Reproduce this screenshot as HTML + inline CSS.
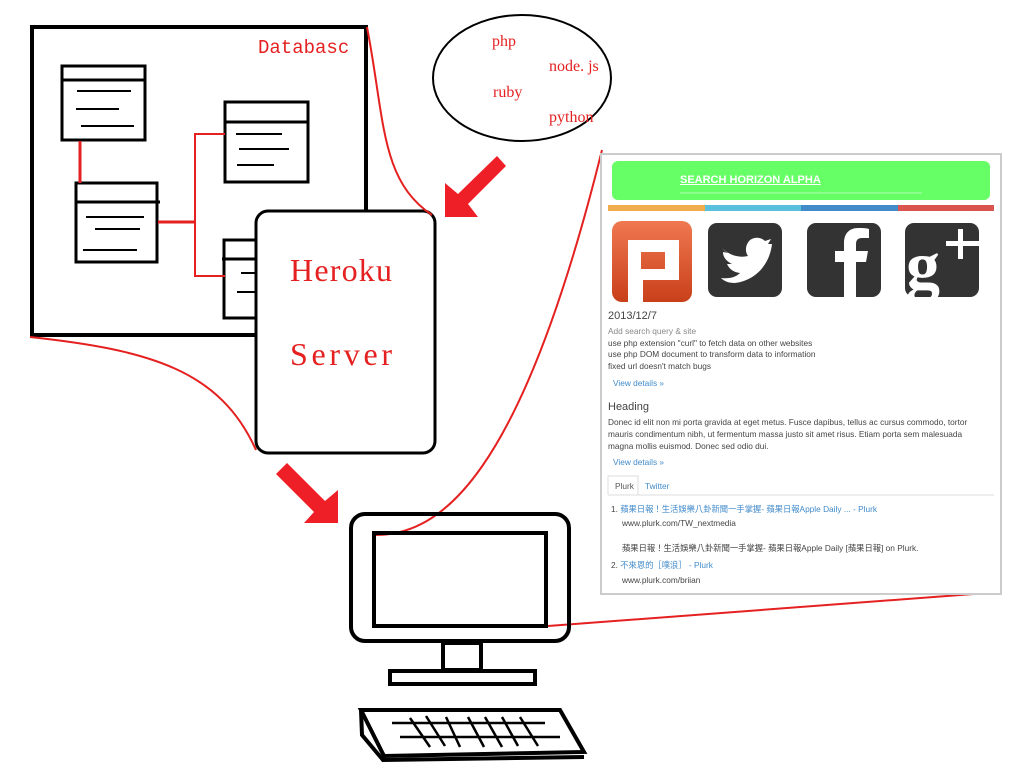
<!DOCTYPE html>
<html><head><meta charset="utf-8"><style>
body{margin:0;background:#fff;width:1024px;height:768px;overflow:hidden;position:relative;font-family:"Liberation Sans","Noto Sans CJK TC",sans-serif}
svg{position:absolute;left:0;top:0}
.p{position:absolute;white-space:nowrap;color:#444}
.sm{font-size:8.3px}
.lk{color:#428bca}
</style></head><body>
<svg width="1024" height="768" viewBox="0 0 1024 768">
<rect x="32" y="27" width="334" height="308" fill="none" stroke="#000" stroke-width="4"/>
<text x="258" y="53" fill="#e52020" font-family="Liberation Mono,monospace" font-size="19">Databasc</text>
<g fill="#fff" stroke="#000" stroke-width="3">
<rect x="62" y="66" width="83" height="74"/><line x1="62" y1="80" x2="145" y2="80"/>
<rect x="225" y="102" width="83" height="80"/><line x1="225" y1="122" x2="308" y2="122"/>
<rect x="76" y="183" width="81" height="79"/><line x1="76" y1="202" x2="160" y2="202"/>
<rect x="224" y="240" width="40" height="78"/><line x1="222" y1="259" x2="264" y2="259"/>
</g>
<g stroke="#000" stroke-width="2">
<line x1="77" y1="91" x2="131" y2="91"/><line x1="76" y1="109" x2="119" y2="109"/><line x1="81" y1="126" x2="134" y2="126"/>
<line x1="236" y1="134" x2="282" y2="134"/><line x1="239" y1="149" x2="289" y2="149"/><line x1="237" y1="165" x2="274" y2="165"/>
<line x1="86" y1="217" x2="144" y2="217"/><line x1="95" y1="229" x2="140" y2="229"/><line x1="83" y1="250" x2="137" y2="250"/>
<line x1="241" y1="273" x2="260" y2="273"/><line x1="237" y1="292" x2="260" y2="292"/>
</g>
<g stroke="#e52020" stroke-width="2" fill="none">
<line x1="80" y1="141" x2="80" y2="183" stroke-width="3"/>
<polyline points="158,222 195,222" stroke-width="3"/>
<polyline points="225,134 195,134 195,276 225,276"/>
</g>
<rect x="256" y="211" width="179" height="242" rx="12" fill="#fff" stroke="#000" stroke-width="3"/>
<text x="290" y="281" fill="#e52020" font-family="Liberation Serif,serif" font-size="32" textLength="102">Heroku</text>
<text x="290" y="365" fill="#e52020" font-family="Liberation Serif,serif" font-size="32" textLength="102">Server</text>
<g stroke="#e52020" stroke-width="2" fill="none">
<path d="M367,27 C385,120 380,180 432,215"/>
<path d="M30,337 C150,350 220,370 256,450"/>
<path d="M375,535 C440,535 520,480 602,150"/>
<path d="M548,626 L1000,592"/>
</g>
<ellipse cx="522" cy="78" rx="89" ry="63" fill="none" stroke="#000" stroke-width="2"/>
<g fill="#e52020" font-family="Liberation Serif,serif" font-size="16">
<text x="492" y="46">php</text><text x="549" y="71">node. js</text>
<text x="493" y="97">ruby</text><text x="549" y="122">python</text>
</g>
<polygon fill="#ee1f27" points="445,217 445,183 458,194 497,156 506,166 468,204 478,217"/>
<polygon fill="#ee1f27" points="338,523 304,523 314,512 276,474 287,463 325,501 338,490"/>
<g fill="none" stroke="#000" stroke-width="4">
<rect x="351" y="514" width="218" height="127" rx="14"/>
<rect x="374" y="533" width="172" height="93"/>
<rect x="443" y="643" width="38" height="27"/>
<rect x="390" y="671" width="145" height="13"/>
<polygon points="361,710 560,710 584,752 384,756"/>
<polyline points="361,710 362,735 383,760 584,757"/>
</g>
<g stroke="#000" stroke-width="2.5">
<line x1="392" y1="723" x2="545" y2="723"/><line x1="400" y1="737" x2="560" y2="737"/>
<line x1="410" y1="718" x2="430" y2="747"/><line x1="426" y1="716" x2="445" y2="746"/>
<line x1="446" y1="717" x2="460" y2="747"/><line x1="468" y1="717" x2="484" y2="747"/>
<line x1="485" y1="717" x2="502" y2="747"/><line x1="502" y1="717" x2="518" y2="746"/>
<line x1="520" y1="717" x2="538" y2="746"/>
</g>
<rect x="601" y="154" width="400" height="440" fill="#fff" stroke="#ccc" stroke-width="2"/>
<rect x="612" y="161" width="378" height="39" rx="6" fill="#66ff66"/>
<line x1="680" y1="193" x2="922" y2="193" stroke="#b0ffb0" stroke-width="1"/>
<rect x="608" y="205" width="97" height="6" fill="#f0ad4e"/>
<rect x="705" y="205" width="96" height="6" fill="#5bc0de"/>
<rect x="801" y="205" width="97" height="6" fill="#428bca"/>
<rect x="898" y="205" width="96" height="6" fill="#d9534f"/>
<defs><linearGradient id="pg" x1="0" y1="0" x2="0" y2="1"><stop offset="0" stop-color="#f07850"/><stop offset="1" stop-color="#c8401a"/></linearGradient></defs>
<rect x="612" y="221" width="80" height="81" rx="10" fill="url(#pg)"/>
<path d="M628,302 V240 H679 V280 H643 V302 Z M641,252 V269 H665 V252 Z" fill="#fff" fill-rule="evenodd"/>
<rect x="708" y="223" width="74" height="74" rx="9" fill="#333"/>
<path d="M722,248 C730,256 740,258 748,256 C745,252 745,245 750,240 C756,236 762,238 765,241 L771,239 L768,244 L772,244 C770,262 758,280 735,283 C728,283 724,281 721,278 C730,279 736,277 740,273 C732,272 729,268 727,264 L732,264 C726,261 723,257 723,252 L728,253 C723,250 721,246 722,248 Z" fill="#fff"/>
<rect x="807" y="223" width="74" height="74" rx="9" fill="#333"/>
<path d="M856,297 V262 H866 L868,251 H856 V244 C856,240 858,238 862,238 H869 V229 C866,228 862,228 858,228 C849,228 844,234 844,243 V251 H835 V262 H844 V297 Z" fill="#fff"/>
<rect x="905" y="223" width="74" height="74" rx="9" fill="#333"/>
<text x="906" y="288" fill="#fff" font-family="Liberation Serif,serif" font-size="68" font-weight="bold">g</text>
<rect x="958" y="229" width="5" height="30" fill="#fff"/><rect x="946" y="241" width="33" height="5" fill="#fff"/>
<line x1="608" y1="495" x2="994" y2="495" stroke="#ddd"/>
<path d="M608,495 V476 H638 V495" fill="none" stroke="#ddd"/>
</svg>
<div class="p" style="left:680px;top:174px;font-size:11px;color:#fff;font-weight:bold;text-decoration:underline">SEARCH HORIZON ALPHA</div>
<div class="p" style="left:608px;top:310px;font-size:11px">2013/12/7</div>
<div class="p sm" style="left:608px;top:326px;color:#888">Add search query &amp; site</div>
<div class="p sm" style="left:608px;top:338px">use php extension "curl" to fetch data on other websites</div>
<div class="p sm" style="left:608px;top:349px">use php DOM document to transform data to information</div>
<div class="p sm" style="left:608px;top:361px">fixed url doesn't match bugs</div>
<div class="p sm lk" style="left:613px;top:378px">View details »</div>
<div class="p" style="left:608px;top:401px;font-size:11px">Heading</div>
<div class="p sm" style="left:608px;top:417px">Donec id elit non mi porta gravida at eget metus. Fusce dapibus, tellus ac cursus commodo, tortor</div>
<div class="p sm" style="left:608px;top:429px">mauris condimentum nibh, ut fermentum massa justo sit amet risus. Etiam porta sem malesuada</div>
<div class="p sm" style="left:608px;top:441px">magna mollis euismod. Donec sed odio dui.</div>
<div class="p sm lk" style="left:613px;top:457px">View details »</div>
<div class="p sm" style="left:615px;top:481px;color:#555">Plurk</div>
<div class="p sm lk" style="left:645px;top:481px">Twitter</div>
<div class="p sm" style="left:611px;top:503px">1. <span class="lk">蘋果日報！生活娛樂八卦新聞一手掌握- 蘋果日報Apple Daily ... - Plurk</span></div>
<div class="p sm" style="left:622px;top:518px">www.plurk.com/TW_nextmedia</div>
<div class="p sm" style="left:622px;top:542px">蘋果日報！生活娛樂八卦新聞一手掌握- 蘋果日報Apple Daily [蘋果日報] on Plurk.</div>
<div class="p sm" style="left:611px;top:559px">2. <span class="lk">不來恩的［噗浪］ - Plurk</span></div>
<div class="p sm" style="left:622px;top:575px">www.plurk.com/briian</div>
</body></html>
